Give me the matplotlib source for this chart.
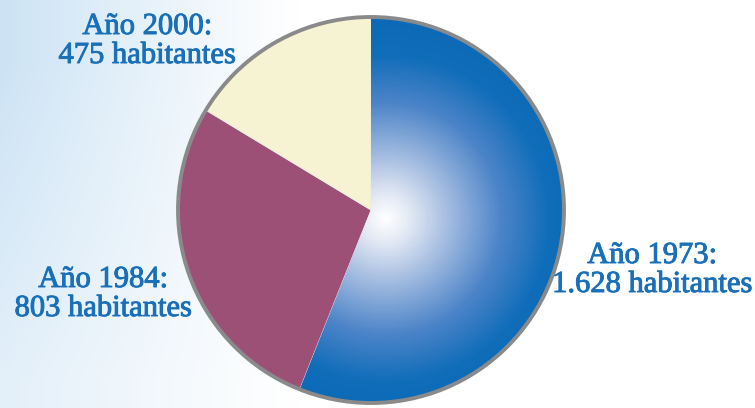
import numpy as np
import matplotlib
matplotlib.use("Agg")
import matplotlib.pyplot as plt
from matplotlib.patches import Circle
from matplotlib.colors import LinearSegmentedColormap
import matplotlib.patheffects as pe

# ---- data ----
years = [1973, 1984, 2000]
values = [1628, 803, 475]
colors = ["#0b6cb8", "#9d5076", "#f5f3d2"]

W, H = 755, 408
fig = plt.figure(figsize=(W / 100, H / 100), dpi=100)
ax = fig.add_axes([0, 0, 1, 1])

# background: white with light blue haze on the left
yy, xx = np.mgrid[0:H, 0:W]
t = np.clip(1 - xx / 300.0, 0, 1) ** 1.1
t = t * (0.55 + 0.45 * np.clip(1 - (yy - 60) / 320.0, 0, 1).clip(0, 1))
bg = np.ones((H, W, 3))
blue = np.array([0.80, 0.89, 0.96])
bg = bg * (1 - t[..., None]) + blue * t[..., None]
ax.imshow(bg, extent=(0, W, 0, H), origin="upper", zorder=0)

cx, cy, R = 371, H - 210, 193
wedges, _ = ax.pie(values, colors=colors, startangle=90, counterclock=False,
                   center=(cx, cy), radius=R, frame=True,
                   wedgeprops=dict(linewidth=0.6, edgecolor="#e8e8e8"))
for w in wedges:
    w.set_zorder(2)

# radial gradient on the blue wedge
gx, gy = 385, 218
dist = np.sqrt((xx - gx) ** 2 + (yy - gy) ** 2)
cmap = LinearSegmentedColormap.from_list(
    "b", [(0, "#ffffff"), (0.12, "#e3e9f4"), (0.32, "#a2bbe0"),
          (0.58, "#4c84c8"), (0.82, "#106db9"), (1, "#0b69b5")])
img = ax.imshow(np.clip(dist / 200.0, 0, 1), extent=(0, W, 0, H), cmap=cmap,
                vmin=0, vmax=1, zorder=3, origin="upper")
img.set_clip_path(wedges[0])

ax.add_patch(Circle((cx, cy), R, fill=False, edgecolor="#8a8a8a", linewidth=2.8, zorder=4))

# labels
label_pos = [(652, 263), (103, 287), (147, 34)]
tc = "#1a70b8"
eff = [pe.withStroke(linewidth=0.7, foreground=tc)]
for yr, v, (lx, ly) in zip(years, values, label_pos):
    ax.text(lx, H - ly, f"Año {yr}:", ha="center", va="baseline", fontsize=22,
            family="Liberation Serif", color=tc, zorder=5, path_effects=eff)
    ax.text(lx, H - ly - 29, f"{v:,} habitantes".replace(",", "."), ha="center",
            va="baseline", fontsize=22, family="Liberation Serif", color=tc, zorder=5,
            path_effects=eff)

ax.set_xlim(0, W)
ax.set_ylim(0, H)
ax.set_aspect("auto")
ax.axis("off")
fig.savefig("out.png", dpi=100)
